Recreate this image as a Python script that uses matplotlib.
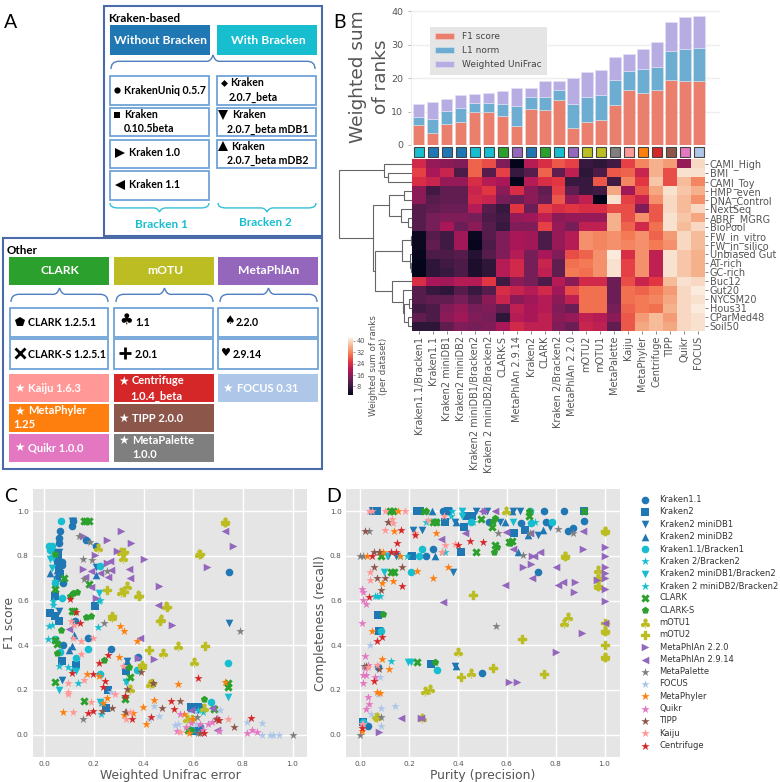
import matplotlib
matplotlib.use('Agg')
import matplotlib.pyplot as plt
import numpy as np
from matplotlib.colors import LinearSegmentedColormap
from matplotlib.patches import Rectangle, PathPatch
from matplotlib.path import Path

W, H = 780, 782
TXT = '#555555'
SANS = ['Lato', 'DejaVu Sans']

# colours of the tools
CYAN, BLUE, GREEN, PURPLE, OLIVE = '#17becf', '#1f77b4', '#2ca02c', '#9467bd', '#bcbd22'
GRAY, PINK, ORANGE, RED, BROWN, MAGENTA, LTBLUE = ('#7f7f7f', '#ff9896', '#ff7f0e', '#d62728',
                                                   '#8c564b', '#e377c2', '#aec7e8')

# panel B, bars
bar_f1 = [6, 3.7, 6.4, 7, 10, 10, 8.8, 5.7, 10.6, 10.4, 13.5, 5.2, 7, 7.6, 12, 16.5, 15.6, 16.5, 19.4, 19, 19.2]
bar_l1 = [2.4, 4, 3.8, 4, 2.5, 2.6, 3.4, 5.9, 3.6, 4, 3, 7, 7.3, 7.4, 7.4, 5.5, 7.1, 6.8, 8.6, 9.7, 9.7]
bar_uni = [3.9, 5.1, 3.5, 3.8, 2.8, 2.9, 3.8, 5.4, 2.9, 4.6, 2.6, 7.8, 7.5, 7.3, 6.8, 5.3, 5.9, 7.3, 8.7, 9.5, 9.6]
bar_colors = [CYAN, BLUE, BLUE, BLUE, CYAN, CYAN, GREEN, PURPLE, BLUE, GREEN, CYAN, PURPLE,
              OLIVE, OLIVE, GRAY, PINK, ORANGE, RED, BROWN, MAGENTA, LTBLUE]

# panel B, heatmap
col_labels = ['Kraken1.1/Bracken1', 'Kraken1.1', 'Kraken2 miniDB1', 'Kraken2 miniDB2',
              'Kraken2 miniDB1/Bracken2', 'Kraken 2 miniDB2/Bracken2', 'CLARK-S', 'MetaPhlAn 2.9.14',
              'Kraken2', 'CLARK', 'Kraken 2/Bracken2', 'MetaPhlAn 2.2.0', 'mOTU2', 'mOTU1', 'MetaPalette',
              'Kaiju', 'MetaPhyler', 'Centrifuge', 'TIPP', 'Quikr', 'FOCUS']
row_labels = ['CAMI_High', 'BMI', 'CAMI_Toy', 'HMP_even', 'DNA_Control', 'NextSeq', 'ABRF_MGRG', 'BioPool',
              'FW_in_vitro', 'FW_in_silico', 'Unbiased Gut', 'AT-rich', 'GC-rich', 'Buc12', 'Gut20',
              'NYCSM20', 'Hous31', 'CParMed48', 'Soil50']
heat = [
    [23, 17, 16, 15, 29, 27, 15, 2, 20, 24, 28, 26, 8, 7, 9, 26, 32, 36, 34, 17, 40],
    [26, 19, 22, 10, 29, 11, 26, 8, 11, 29, 12, 21, 7, 10, 28, 29, 22, 36, 27, 41, 41],
    [24, 22, 17, 17, 24, 20, 19, 2, 20, 24, 25, 8, 8, 28, 9, 32, 25, 38, 27, 37, 32],
    [16, 9, 12, 12, 22, 25, 16, 24, 16, 12, 26, 12, 8, 9, 35, 18, 28, 35, 41, 38, 36],
    [16, 11, 12, 12, 23, 22, 14, 13, 16, 13, 28, 17, 21, 2, 41, 26, 22, 33, 40, 37, 33],
    [11, 12, 13, 13, 20, 11, 8, 25, 13, 26, 24, 25, 24, 24, 27, 27, 15, 28, 40, 37, 40],
    [11, 14, 15, 15, 14, 10, 9, 17, 18, 21, 16, 17, 17, 17, 36, 27, 33, 28, 41, 38, 35],
    [11, 14, 19, 13, 16, 11, 8, 15, 15, 26, 17, 14, 21, 21, 36, 29, 23, 30, 41, 37, 40],
    [3, 11, 9, 18, 3, 11, 15, 19, 18, 10, 17, 20, 33, 32, 33, 31, 33, 29, 34, 40, 37],
    [3, 12, 9, 18, 2.5, 10, 15, 19, 18, 10, 17, 20, 33, 32, 33, 32, 33, 31, 33, 40, 37],
    [2.5, 10, 10, 11, 6, 11, 15, 20, 14, 19, 15, 27, 29, 33, 42, 24, 33, 21, 41, 38, 36],
    [2, 7, 9, 10, 5, 7, 20, 23, 14, 22, 12, 30, 31, 33, 41, 26, 33, 21, 41, 38, 36],
    [2, 7, 8, 10, 5, 7, 20, 23, 14, 21, 12, 31, 30, 33, 41, 26, 33, 21, 41, 38, 36],
    [24, 19, 18, 20, 20, 25, 9, 16, 14, 10, 20, 16, 23, 23, 13, 27, 22, 25, 37, 41, 40],
    [11, 8, 7, 11, 8, 11, 24, 22, 20, 23, 18, 27, 30, 30, 13, 30, 29, 31, 34, 40, 42],
    [11, 12, 12, 14, 11, 16, 22, 16, 18, 20, 16, 21, 30, 30, 13, 30, 31, 32, 35, 40, 41],
    [9, 10, 15, 17, 14, 15, 12, 21, 19, 20, 15, 13, 30, 30, 14, 29, 31, 30, 36, 40, 42],
    [12, 10, 16, 18, 15, 14, 7, 20, 19, 21, 16, 17, 21, 20, 16, 28, 34, 37, 34, 40, 41],
    [7, 7, 12, 15, 14, 15, 19, 23, 21, 21, 15, 13, 22, 21, 12, 28, 35, 37, 35, 40, 41],
]
# (merge height, upper child, lower child), a plain int is a row of the heatmap
dendro = (217,
          (82, 0, (70, 1, 2)),
          (115,
           (67, (23, 3, 4), (33, 5, (13, 6, 7))),
           (110,
            (30, (3, 8, 9), (7, 10, (2, 11, 12))),
            (58, 13, (28, 14, (23, (8, 15, 16), (13, 17, 18)))))))

# panels C and D, (error, F1) and (purity, completeness) per tool
c_kraken11 = [(.063, .91), (.06, .88), (.058, .858), (.11, .933), (.117, .955), (.17, .873), (.21, .843), (.742, .728),
              (.07, .775), (.074, .679), (.123, .51), (.177, .435), (.077, .40), (.27, .384), (.378, .347), (.627, .033),
              (.607, .018), (.593, .126), (.627, .126), (.055, .76), (.06, .72), (.07, .76), (.05, .70)]
c_kraken2 = [(.023, .544), (.043, .53), (.06, .511), (.072, .332), (.128, .312), (.204, .578), (.329, .285), (.255, .2),
             (.248, .121), (.593, .125), (.62, .125), (.607, .018), (.043, .619), (.056, .813), (.055, .77), (.06, .74),
             (.065, .72), (.055, .79)]
c_mdb1 = [(.117, .955), (.11, .955), (.06, .816), (.208, .75), (.056, .79), (.742, .502), (.332, .332), (.07, .245),
          (.065, .75), (.06, .555), (.62, .11)]
c_mdb2 = [(.12, .447), (.11, .395), (.025, .723), (.208, .716), (.05, .738), (.065, .77), (.1, .38), (.335, .33), (.59, .12)]
c_bracken1 = [(.067, .958), (.02, .843), (.03, .843), (.023, .828), (.224, .756), (.07, .611), (.043, .679), (.128, .342),
              (.063, .369), (.177, .384), (.224, .27), (.372, .29), (.741, .32), (.67, .145), (.043, .43), (.59, .02)]
c_k2b2 = [(.016, .429), (.02, .487), (.03, .492), (.06, .308), (.097, .302), (.137, .233), (.217, .481), (.036, .581),
          (.228, .093), (.224, .604), (.64, .1)]
c_mdb1b2 = [(.023, .786), (.03, .746), (.06, .2), (.13, .283), (.221, .634), (.741, .167), (.329, .235), (.224, .148), (.035, .79)]
c_mdb2b2 = [(.043, .686), (.036, .6), (.11, .29), (.22, .6), (.23, .14), (.33, .24), (.62, .11)]
c_clark = [(.17, .958), (.18, .958), (.16, .958), (.08, .70), (.11, .552), (.12, .552), (.18, .674), (.043, .235), (.16, .151),
           (.345, .256), (.325, .158), (.683, .115), (.741, .23), (.741, .215), (.043, .424), (.05, .407), (.58, .021), (.043, .653)]
c_clark_s = [(.103, .622), (.117, .634), (.133, .637), (.168, .526), (.187, .532), (.066, .469), (.052, .365), (.242, .335),
             (.341, .305), (.643, .158), (.59, .02), (.045, .81)]
c_motu1 = [(.727, .952), (.624, .809), (.311, .816), (.318, .791), (.334, .667), (.311, .637), (.378, .626), (.489, .574),
           (.472, .517), (.54, .399), (.479, .365), (.604, .324), (.345, .205), (.428, .227), (.392, .309), (.274, .529),
           (.643, .118), (.573, .07), (.217, .836)]
c_motu2 = [(.627, .809), (.729, .952), (.254, .646), (.318, .813), (.32, .637), (.38, .622), (.495, .57), (.468, .511),
           (.647, .399), (.421, .38), (.274, .53), (.394, .31), (.597, .07), (.435, .23), (.32, .82)]
c_mp220 = [(.157, .888), (.254, .87), (.309, .913), (.348, .858), (.295, .824), (.204, .806), (.403, .788), (.463, .667),
           (.656, .75), (.761, .843), (.513, .489), (.443, .339), (.251, .768), (.157, .744), (.378, .342), (.209, .611)]
c_mp2914 = [(.727, .91), (.342, .743), (.345, .70), (.264, .776), (.258, .705), (.267, .738), (.224, .723), (.19, .731),
            (.164, .705), (.187, .66), (.459, .581), (.385, .432), (.099, .474), (.593, .11), (.694, .021), (.674, .118)]
c_metapalette = [(.14, .888), (.184, .861), (.157, .788), (.193, .783), (.251, .731), (.161, .697), (.24, .499), (.788, .462),
                 (.439, .233), (.157, .069), (.616, .081), (.62, .006), (1.0, 0.0), (.327, .1)]
c_focus = [(.271, .193), (.442, .13), (.421, .069), (.462, .084), (.526, .043), (.707, .11), (.817, .058), (.878, .054),
           (.878, 0), (.909, 0), (.922, 0), (.946, 0), (.613, .05), (.54, .046)]
c_metaphyler = [(.077, .102), (.173, .272), (.221, .263), (.307, .487), (.321, .462), (.373, .419), (.301, .35), (.537, .227),
                (.727, .238), (.399, .126), (.442, .155), (.254, .163), (.238, .143), (.321, .088), (.356, .099), (.408, .048),
                (.562, .091), (.584, .009), (.597, .07)]
c_quikr = [(.546, .093), (.569, .036), (.536, .018), (.593, .054), (.64, .021), (.66, .05), (.675, .058), (.694, .073),
           (.705, .018), (.817, .009), (.835, .021), (.858, .013), (.627, .05)]
c_tipp = [(.274, .12), (.231, .106), (.329, .103), (.475, .12), (.546, .151), (.332, .205), (.388, .28), (.44, .232),
          (.325, .175), (.703, .066), (.765, .033), (.627, .006), (.69, .07)]
c_kaiju = [(.117, .10), (.097, .233), (.097, .193), (.097, .181), (.161, .244), (.19, .146), (.287, .182), (.329, .069),
           (.345, .103), (.318, .309), (.197, .435), (.15, .421), (.15, .36), (.117, .432), (.106, .51), (.119, .492),
           (.74, .072), (.546, .012)]
c_centrifuge = [(.103, .607), (.13, .549), (.146, .502), (.219, .323), (.258, .357), (.195, .272), (.11, .278), (.244, .242),
                (.235, .215), (.177, .096), (.197, .105), (.354, .072), (.432, .081), (.51, .151), (.523, .117), (.62, .253),
                (.643, .006), (.701, .066), (.831, .075), (.325, .175)]

d_kraken11 = [(.752, 1), (.835, 1), (.915, .955), (.851, .913), (.869, .925), (.76, .952), (.658, .948), (.528, .952),
              (.296, .833), (.269, .801), (.727, .728), (.499, .278), (.033, .04), (.012, .055), (.34, 1), (.08, .462), (.074, .305)]
d_kraken2 = [(.053, 1), (.07, 1), (.231, 1), (.245, 1), (.36, 1), (.347, .952), (.426, .928), (.435, .98), (.456, .98),
             (.629, .903), (.674, .918), (.411, .819), (.21, .801), (.288, .315), (.074, .537), (.012, .055), (.076, .462), (.917, 1)]
d_mdb1 = [(.472, 1), (.517, 1), (.626, 1), (.653, 1), (.217, .918), (.251, .918), (.387, .952), (.572, .952), (.729, .892),
          (.776, .928), (.381, .728), (.115, .801), (.145, .801), (.387, .309), (.08, .462)]
d_mdb2 = [(.295, 1), (.592, .952), (.647, .818), (.685, .892), (.749, .918), (.308, .801), (.392, .309), (.394, .952), (.62, 1)]
d_bracken1 = [(.694, 1), (.786, .952), (.70, .95), (.452, .952), (.251, .833), (.206, .728), (.241, .801), (.315, .29),
              (.087, .462), (.012, .055)]
d_k2b2 = [(.269, .952), (.704, .952), (.19, .801), (.347, .818), (.128, .33), (.06, .619), (.08, .619), (.371, .98), (.46, .952)]
d_mdb1b2 = [(.097, .728), (.11, .801), (.196, .324), (.206, .324), (.415, 1), (.415, .98), (.626, .952), (.3, .952)]
d_mdb2b2 = [(.067, .619), (.374, 1), (.162, .801), (.715, .952)]
d_clark = [(.135, 1), (.122, 1), (.26, 1), (.299, .952), (.312, .952), (.494, .967), (.538, .928), (.551, .851), (.61, .861),
           (.622, .866), (.473, .818), (.128, .728), (.139, .728), (.231, .327), (.917, 1), (.692, .978), (.085, .8)]
d_clark_s = [(.269, 1), (.551, .97), (.544, .955), (.558, .84), (.547, .818), (.615, .86), (.094, .54), (.306, .327), (.69, 1), (.31, .952)]
d_motu1 = [(1, .91), (.971, .738), (.974, .70), (.971, .667), (.836, .801), (.835, .499), (.851, .525), (.401, .372),
           (.453, .275), (.285, .205), (.267, .197), (.067, .078), (.251, .075), (.595, 1), (1, .465), (1, .35)]
d_motu2 = [(.462, .625), (.664, .427), (.412, .256), (.542, .297), (.752, .272), (1, .499), (1, .465), (1, .40), (1, .35),
           (.836, .801), (.971, .667), (.974, .70), (.064, .078), (1, .91)]
d_mp220 = [(1, .84), (1, .801), (1, .75), (1, .726), (1, .70), (1, .652), (1, .60), (.967, .694), (.91, .833), (.879, .682),
           (.875, .637), (.80, .372), (.906, .454), (.667, .75), (.697, .765), (.705, .801), (.608, .238), (.64, .238),
           (.076, .013), (.247, .076), (.51, 1)]
d_mp2914 = [(.91, .91), (.801, .75), (.735, .82), (.831, .682), (.81, .668), (.703, .70), (.711, .801), (.694, .903), (.626, .833),
            (.592, .671), (.595, .906), (.428, .903), (.329, .876), (.34, .596), (.169, .076), (.247, .076), (1, .499), (.551, 1), (.497, 1)]
d_metapalette = [(.001, .801), (.012, .801), (.037, .91), (.115, .952), (.333, .82), (.565, .903), (.808, .92), (.872, .903),
                 (.695, .903), (.667, .803), (.555, .487), (.015, .309), (.087, .078), (.001, 0)]
d_focus = [(.04, .40), (.08, .26), (.087, .118), (.142, .13), (.046, .091), (.087, .04), (.074, .182), (.012, .05)]
d_metaphyler = [(.153, 1), (.138, .91), (.31, .903), (.026, .801), (.08, .818), (.094, .818), (.162, .801), (.231, .734), (.36, .75),
                (.299, .70), (.135, .689), (.09, .679), (.05, .462), (.091, .339), (.117, .293), (.067, .193), (.08, .188), (.007, .018)]
d_quikr = [(.008, .653), (.012, .637), (.012, .601), (.022, .584), (.007, .50), (.019, .351), (.01, .233), (.012, .265), (.022, .268),
           (.033, .167), (.035, .138), (.022, .114), (.007, .048), (.06, .257), (.033, .312), (.019, .298)]
d_tipp = [(.019, .91), (.056, .82), (.056, .75), (.07, .70), (.101, .70), (.087, .649), (.173, .75), (.112, .952), (.078, .818),
          (.023, .309), (.076, .293)]
d_kaiju = [(.037, 1), (.05, 1), (.101, 1), (.183, 1), (.132, .966), (.135, .948), (.278, .963), (.101, .918), (.224, .903), (.344, .98),
           (.347, .851), (.387, .854), (.333, .82), (.04, .728), (.04, .694), (.067, .312), (.03, .305), (.007, .05)]
d_centrifuge = [(.166, .918), (.149, .858), (.128, .819), (.145, .819), (.05, .801), (.401, .851), (.449, .866), (.501, .861), (.172, .667),
                (.037, .616), (.091, .439), (.07, .42), (.056, .242), (.006, .03), (.224, .895)]

legend_names = ['Kraken1.1', 'Kraken2', 'Kraken2 miniDB1', 'Kraken2 miniDB2', 'Kraken1.1/Bracken1', 'Kraken 2/Bracken2',
                'Kraken2 miniDB1/Bracken2', 'Kraken 2 miniDB2/Bracken2', 'CLARK', 'CLARK-S', 'mOTU1', 'mOTU2',
                'MetaPhlAn 2.2.0', 'MetaPhlAn 2.9.14', 'MetaPalette', 'FOCUS', 'MetaPhyler', 'Quikr', 'TIPP', 'Kaiju', 'Centrifuge']
legend_colors = [BLUE, BLUE, BLUE, BLUE, CYAN, CYAN, CYAN, CYAN, GREEN, GREEN, OLIVE, OLIVE, PURPLE, PURPLE,
                 GRAY, LTBLUE, ORANGE, MAGENTA, BROWN, PINK, RED]
legend_markers = ['o', 's', 'v', '^', 'o', '*', 'v', '*', 'X', 'p', r'$\clubsuit$', 'P', '>', '<', '*', '*', '*', '*', '*', '*', '*']
c_series = [c_kraken11, c_kraken2, c_mdb1, c_mdb2, c_bracken1, c_k2b2, c_mdb1b2, c_mdb2b2, c_clark, c_clark_s, c_motu1, c_motu2,
            c_mp220, c_mp2914, c_metapalette, c_focus, c_metaphyler, c_quikr, c_tipp, c_kaiju, c_centrifuge]
d_series = [d_kraken11, d_kraken2, d_mdb1, d_mdb2, d_bracken1, d_k2b2, d_mdb1b2, d_mdb2b2, d_clark, d_clark_s, d_motu1, d_motu2,
            d_mp220, d_mp2914, d_metapalette, d_focus, d_metaphyler, d_quikr, d_tipp, d_kaiju, d_centrifuge]

fig = plt.figure(figsize=(W / 100, H / 100), dpi=100)


def axpx(x0, y0, x1, y1, **kw):
    # axes from pixel box, y going down like in the picture
    return fig.add_axes([x0 / W, 1 - y1 / H, (x1 - x0) / W, (y1 - y0) / H], **kw)


# overlay for panel A and the letters
ov = axpx(0, 0, W, H)
ov.set_xlim(0, W)
ov.set_ylim(H, 0)
ov.axis('off')


def box(x0, y0, x1, y1, fc='white', ec='#6fa3d8', lw=1.3):
    ov.add_patch(Rectangle((x0, y0), x1 - x0, y1 - y0, fc=fc, ec=ec, lw=lw))


def brace(x0, x1, ytip, yend, color):
    # curly brace, tip at ytip and ends at yend
    xm = (x0 + x1) / 2
    yb = ytip + (yend - ytip) * 0.45
    verts = [(x0, yend), (x0, yb), (x0 + 8, yb), (xm - 6, yb), (xm - 2, yb), (xm, ytip),
             (xm + 2, yb), (xm + 6, yb), (x1 - 8, yb), (x1, yb), (x1, yend)]
    codes = [Path.MOVETO, Path.CURVE3, Path.CURVE3, Path.LINETO, Path.CURVE3, Path.CURVE3,
             Path.CURVE3, Path.CURVE3, Path.LINETO, Path.CURVE3, Path.CURVE3]
    ov.add_patch(PathPatch(Path(verts, codes), fc='none', ec=color, lw=1.0))


def label(x, y, s, size=7.6, color='black', ha='left'):
    ov.text(x, y, s, fontsize=size, fontweight='bold', family=SANS, color=color, ha=ha, va='center')


FRAME = '#4a6aa8'
box(104, 6, 322, 236, ec=FRAME, lw=1.5)
box(3, 238, 322, 469, ec=FRAME, lw=1.5)
label(108, 19, 'Kraken-based', 8.4)
label(7, 251, 'Other', 8.4)
box(110, 25, 210, 55, fc=BLUE, ec='none')
box(217, 25, 317, 55, fc=CYAN, ec='none')
label(161, 40, 'Without Bracken', 8.7, 'white', 'center')
label(268, 40, 'With Bracken', 8.7, 'white', 'center')
brace(111, 315, 55, 69, '#4f7fc0')

for y0, y1 in [(76, 105), (108, 136), (140, 168), (171, 200)]:
    box(110, y0, 209, y1)
for y0, y1 in [(76, 105), (108, 136), (140, 168)]:
    box(217, y0, 316, y1)


def mark(x, y, m, ms=5):
    ov.plot([x], [y], m, color='black', ms=ms, mew=0)


mark(117, 90, 'o', 4.5)
label(124, 90, 'KrakenUniq 0.5.7')
mark(117, 115, 's', 4.5)
label(124, 115, 'Kraken')
label(124, 129, '0.10.5beta')
mark(120, 153, '>', 6.5)
label(129, 153, 'Kraken 1.0')
mark(120, 185, '<', 6.5)
label(129, 185, 'Kraken 1.1')
mark(224, 83, 'D', 3.5)
label(230, 83, 'Kraken')
label(229, 97, '2.0.7_beta')
mark(223, 115, 'v', 6.5)
label(232, 115, 'Kraken')
label(227, 129, '2.0.7_beta mDB1')
mark(223, 146, '^', 6.5)
label(231, 146, 'Kraken')
label(227, 160, '2.0.7_beta mDB2')
brace(110, 209, 212, 203, '#35c0d8')
brace(218, 316, 212, 203, '#35c0d8')
label(161, 224, 'Bracken 1', 8.5, CYAN, 'center')
label(265, 223, 'Bracken 2', 8.5, CYAN, 'center')

for x0, x1, c, s in [(9, 109, GREEN, 'CLARK'), (114, 214, OLIVE, 'mOTU'), (218, 318, PURPLE, 'MetaPhlAn')]:
    box(x0, 257, x1, 285, fc=c, ec='none')
    label((x0 + x1) / 2 + 1, 271, s, 8.7, 'white', 'center')
    brace(x0 + 2, x1 - 1, 288, 302, '#4f7fc0')
    box(x0 + 1 if x0 < 100 else x0, 308, x1 if x0 > 200 else x1 - 1, 337)
    box(x0 + 1 if x0 < 100 else x0, 339, x1 if x0 > 200 else x1 - 1, 369)
mark(20, 322, 'p', 7.5)
label(28, 322, 'CLARK 1.2.5.1')
ov.plot([20], [353], 'x', color='black', ms=7, mew=2)
label(28, 354, 'CLARK-S 1.2.5.1')
ov.text(126, 319, '\u2663', fontsize=11, family='DejaVu Sans', ha='center', va='center')
label(135, 322, '1.1')
ov.plot([124.5], [353], '+', color='black', ms=9, mew=2)
label(135, 354, '2.0.1')
ov.text(229, 321, '\u2660', fontsize=8.5, family='DejaVu Sans', ha='center', va='center')
label(236, 322, '2.2.0')
ov.text(226, 353, '\u2665', fontsize=8, family='DejaVu Sans', ha='center', va='center')
label(233, 354, '2.9.14')

for x0, x1, c, y0, y1 in [(9, 109, PINK, 374, 402), (9, 109, ORANGE, 404, 432), (9, 109, MAGENTA, 434, 462),
                          (114, 214, RED, 374, 402), (114, 214, BROWN, 404, 432), (114, 214, GRAY, 434, 462),
                          (218, 318, LTBLUE, 374, 402)]:
    box(x0, y0, x1, y1, fc=c, ec='none')
label(14, 388, '\u2605', 8.5, 'white')
label(28, 388, 'Kaiju 1.6.3', 8, 'white')
label(14, 411, '\u2605', 8.5, 'white')
label(28, 411, 'MetaPhyler', 8, 'white')
label(13, 425, '1.25', 8, 'white')
label(14, 447, '\u2605', 8.5, 'white')
label(28, 448, 'Quikr 1.0.0', 8, 'white')
label(118, 381, '\u2605', 8.5, 'white')
label(132, 381, 'Centrifuge', 8, 'white')
label(130, 396, '1.0.4_beta', 8, 'white')
label(118, 418, '\u2605', 8.5, 'white')
label(132, 418, 'TIPP 2.0.0', 8, 'white')
label(118, 440, '\u2605', 8.5, 'white')
label(132, 440, 'MetaPalette', 8, 'white')
label(132, 455, '1.0.0', 8, 'white')
label(222, 388, '\u2605', 8.5, 'white')
label(237, 388, 'FOCUS 0.31', 8, 'white')

for x, y, s in [(4, 23, 'A'), (333, 22, 'B'), (4, 497, 'C'), (326, 497, 'D')]:
    ov.text(x, y, s, fontsize=14, family=SANS, color='black', va='center')

# stacked bars
axb = axpx(411, 10, 720, 145)
idx = np.arange(len(bar_f1))
b1 = np.array(bar_f1)
b2 = b1 + np.array(bar_l1)
axb.bar(idx, bar_f1, 0.82, color='#ea7f6e', edgecolor='#f5d5cf', lw=0.4, label='F1 score', zorder=3)
axb.bar(idx, bar_l1, 0.82, bottom=b1, color='#6dadd2', edgecolor='#d5e5ef', lw=0.4, label='L1 norm', zorder=3)
axb.bar(idx, bar_uni, 0.82, bottom=b2, color='#b7ade2', edgecolor='#e5e1f4', lw=0.4, label='Weighted UniFrac', zorder=3)
axb.set_xlim(-0.55, 21.51)
axb.set_ylim(0, 40.3)
axb.set_yticks([0, 10, 20, 30, 40])
axb.set_xticks([])
axb.grid(axis='y', color='#eeeeee', lw=1)
axb.set_axisbelow(True)
axb.tick_params(axis='y', labelsize=6.8, colors=TXT, length=2, width=0.6, color='#aaaaaa')
for s in ['top', 'right', 'bottom']:
    axb.spines[s].set_visible(False)
axb.spines['left'].set_color('#eeeeee')
axb.legend(loc='upper left', bbox_to_anchor=(0.0615, 0.874), fontsize=6.5, facecolor='#e5e5e5', edgecolor='none',
           framealpha=1, labelcolor='#444444', borderpad=0.6, labelspacing=0.55, handlelength=2.1, fancybox=False,
           borderaxespad=0)
ov.text(358, 77, 'Weighted sum', rotation=90, fontsize=13.3, color=TXT, ha='center', va='center')
ov.text(381, 77, 'of ranks', rotation=90, fontsize=13.3, color=TXT, ha='center', va='center')

# colour chips under the bars
axc = axpx(411, 146, 720, 158)
axc.bar(idx, [1] * len(idx), 0.72, color=bar_colors, edgecolor='#444444', lw=0.8)
axc.set_xlim(-0.55, 21.51)
axc.set_ylim(-0.05, 1.05)
axc.axis('off')

# heatmap, rocket colours by hand so only matplotlib is needed
rocket = LinearSegmentedColormap.from_list('rocket_', ['#03051a', '#35193e', '#701f57', '#ad1759', '#e13342',
                                                       '#f37651', '#f6b48f', '#faebdd'])
axh = axpx(412, 159, 705, 331)
im = axh.imshow(np.array(heat), cmap=rocket, vmin=2, vmax=42, aspect='auto', interpolation='nearest')
axh.set_xticks(np.arange(len(col_labels)))
axh.set_xticklabels(col_labels, rotation=90, fontsize=7, color=TXT)
axh.yaxis.tick_right()
axh.set_yticks(np.arange(len(row_labels)))
axh.set_yticklabels(row_labels, fontsize=7, color=TXT)
axh.tick_params(length=2, width=0.5, color=TXT, pad=1.5)
for s in axh.spines.values():
    s.set_visible(False)

# dendrogram
axd = axpx(338, 159, 412, 331)
axd.set_xlim(219, 0)
axd.set_ylim(len(row_labels) - 0.5, -0.5)
axd.axis('off')


def draw_tree(node):
    if isinstance(node, int):
        return node, 0
    h, a, b = node
    ya, ha = draw_tree(a)
    yb, hb = draw_tree(b)
    axd.plot([ha, h, h, hb], [ya, ya, yb, yb], color='#666666', lw=0.8, solid_joinstyle='miter')
    return (ya + yb) / 2, h


draw_tree(dendro)

# colorbar
axcb = axpx(348, 338, 353, 395)
cb = fig.colorbar(im, cax=axcb, ticks=[8, 16, 24, 32, 40])
cb.outline.set_visible(False)
cb.ax.tick_params(labelsize=4.8, colors=TXT, length=1.5, width=0.4, pad=1)
ov.text(373, 366, 'Weighted sum of ranks', rotation=90, fontsize=6.3, color=TXT, ha='center', va='center')
ov.text(384, 366, '(per dataset)', rotation=90, fontsize=6.3, color=TXT, ha='center', va='center')

# marker area per marker shape
SIZES = {'*': 40, r'$\clubsuit$': 52, 'P': 38, 'X': 36}


# scatter panels
def scatter_panel(ax, series, xl, yl, xlim, ylab_x):
    ax.set_facecolor('#e5e5e5')
    for vals, c, m, n in zip(series, legend_colors, legend_markers, legend_names):
        xy = np.array(vals)
        ax.scatter(xy[:, 0], xy[:, 1], s=SIZES.get(m, 30), c=c, edgecolors=c, marker=m,
                   linewidths=1.0 if m == 'P' else 0, label=n, zorder=3)
    ax.set_xlim(*xlim)
    ax.set_ylim(-0.1, 1.1)
    ax.set_xticks(np.arange(0, 1.01, 0.2))
    ax.set_yticks(np.arange(0, 1.01, 0.2))
    ax.grid(color='white', lw=1)
    ax.set_axisbelow(True)
    ax.tick_params(labelsize=5.3, colors=TXT, length=0, pad=3)
    for s in ax.spines.values():
        s.set_visible(False)
    ax.set_xlabel(xl, fontsize=8.9, color=TXT, labelpad=1)
    ax.set_ylabel(yl, fontsize=8.9, color=TXT)
    ax.yaxis.set_label_coords(ylab_x, 0.5)


axC = axpx(33, 489, 307, 757)
scatter_panel(axC, c_series, 'Weighted Unifrac error', 'F1 score', (-0.045, 1.058), -0.062)
axD = axpx(346, 489, 620, 757)
scatter_panel(axD, d_series, 'Purity (precision)', 'Completeness (recall)', (-0.058, 1.063), -0.069)
h, l = axC.get_legend_handles_labels()
fig.legend(h, l, loc='upper left', bbox_to_anchor=(637 / W, 1 - 495 / H), frameon=False, fontsize=6, labelcolor='#333333',
           labelspacing=0.395, handletextpad=0.7, borderpad=0, borderaxespad=0, scatterpoints=1)

fig.savefig('out.png', dpi=100)
